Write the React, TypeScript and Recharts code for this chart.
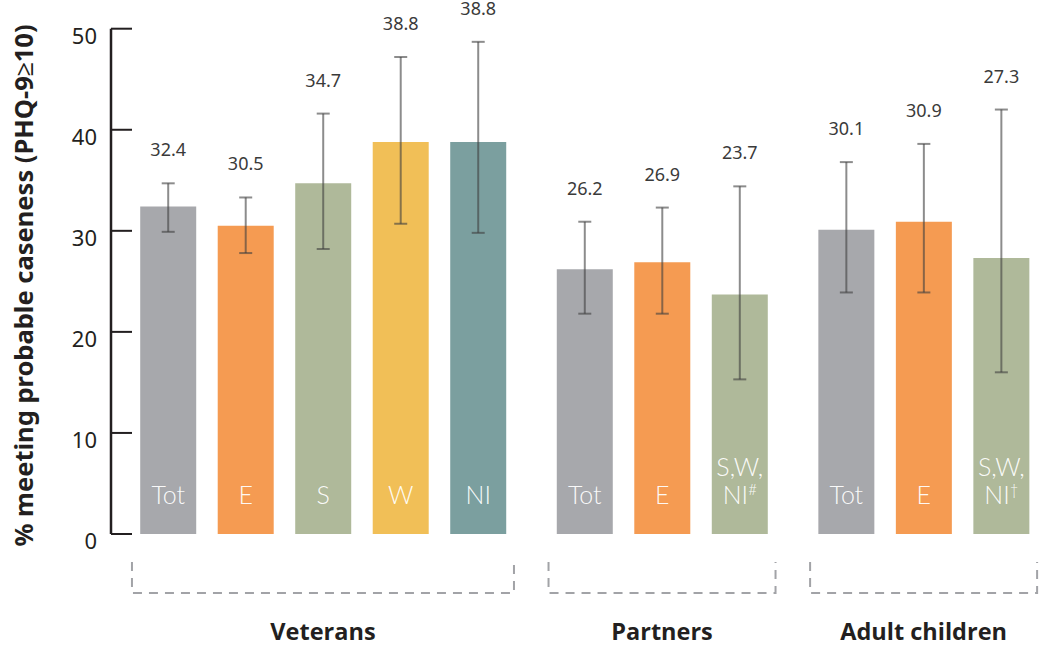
import React from "react";
import {
  BarChart,
  Bar,
  Cell,
  XAxis,
  YAxis,
  ErrorBar,
  LabelList,
} from "recharts";

// groups and how many bars each holds
const groups = ["Veterans", "Partners", "Adult children"];
const groupSizes = [5, 3, 3];

// short code printed inside each bar (second line after "\n")
const barCodes = ["Tot", "E", "S", "W", "NI", "Tot", "E", "S,W,\nNI", "Tot", "E", "S,W,\nNI"];
const barSups = ["", "", "", "", "", "", "", "#", "", "", "†"];

// % meeting probable caseness and 95% CI
const values = [32.4, 30.5, 34.7, 38.8, 38.8, 26.2, 26.9, 23.7, 30.1, 30.9, 27.3];
const ciLow = [29.9, 27.8, 28.2, 30.7, 29.8, 21.8, 21.8, 15.3, 23.9, 23.9, 16.0];
const ciHigh = [34.7, 33.3, 41.6, 47.2, 48.7, 30.9, 32.3, 34.4, 36.8, 38.6, 42.0];

const yTicks = [0, 10, 20, 30, 40, 50];

const colorByCode: Record<string, string> = {
  Tot: "#a7a8ac",
  E: "#f59b52",
  S: "#afb99a",
  W: "#f1bf57",
  NI: "#7b9f9f",
  "S,W,\nNI": "#afb99a",
};

const W = 1059;
const H = 646;
const AXIS_W = 111;
const PLOT_W = W - AXIS_W;
const X_MIN = -0.735;
const X_MAX = 11.497;
const GROUP_GAP = 0.375;
const UNIT_PX = PLOT_W / (X_MAX - X_MIN);
const INK = "#231f20";

const rows: any[] = [];
const groupCenters: number[] = [];
let k = 0;
groups.forEach((g, gi) => {
  const first = k + gi * GROUP_GAP;
  for (let i = 0; i < groupSizes[gi]; i++) {
    const idx = rows.length;
    rows.push({
      pos: k + gi * GROUP_GAP,
      code: barCodes[idx],
      value: values[idx],
      err: [values[idx] - ciLow[idx], ciHigh[idx] - values[idx]],
    });
    k++;
  }
  groupCenters.push((first + (k - 1 + gi * GROUP_GAP)) / 2);
});

const YTick = (props: any) => {
  const { x, y, payload } = props;
  return (
    <g>
      <line x1={x + 14} x2={x + 35} y1={y} y2={y} stroke={INK} strokeWidth={2} />
      <text
        x={x}
        y={y + 15}
        textAnchor="end"
        fontSize={22}
        fontFamily="Noto Sans"
        fill={INK}
      >
        {payload.value}
      </text>
    </g>
  );
};

// dashed bracket under each group plus its name
const GroupTick = (props: any) => {
  const { x, y, index } = props;
  const half = ((groupSizes[index] - 1) / 2) * UNIT_PX + 28 + 8;
  const top = y + 28;
  const bottom = y + 59;
  return (
    <g>
      <path
        d={`M${x - half},${top} V${bottom} H${x + half} V${top}`}
        fill="none"
        stroke="#a2a3a7"
        strokeWidth={2}
        strokeDasharray="9 7"
      />
      <text
        x={x}
        y={y + 106}
        textAnchor="middle"
        fontSize={23.5}
        fontWeight={700}
        fontFamily="Open Sans"
        fill={INK}
      >
        {groups[index]}
      </text>
    </g>
  );
};

const ValueLabel = (props: any) => {
  const { x, y, width, height, value, index } = props;
  const perUnit = height / value;
  const whiskerTop = y + height - ciHigh[index] * perUnit;
  return (
    <text
      x={x + width / 2}
      y={whiskerTop - 27}
      textAnchor="middle"
      fontSize={18}
      fontFamily="Noto Sans"
      fill="#3a3a3a"
    >
      {Number(value).toFixed(1)}
    </text>
  );
};

const CodeLabel = (props: any) => {
  const { x, y, width, height, index } = props;
  const lines = barCodes[index].split("\n");
  const bottom = y + height;
  const cx = x + width / 2;
  return (
    <text
      textAnchor="middle"
      fontSize={25}
      fontWeight={300}
      fontFamily="Lato"
      fill="#ffffff"
      fillOpacity={0.95}
    >
      {lines.map((ln: string, li: number) => (
        <tspan key={li} x={cx} y={bottom - 30 - (lines.length - 1 - li) * 28}>
          {ln}
          {li === lines.length - 1 && barSups[index] ? (
            <tspan fontSize={15} dy={-9}>
              {barSups[index]}
            </tspan>
          ) : null}
        </tspan>
      ))}
    </text>
  );
};

export default function App() {
  return (
    <div style={{ position: "absolute", left: 0, top: 0, background: "#fff" }}>
      <BarChart
        width={W}
        height={H}
        data={rows}
        margin={{ top: 28.7, right: 0, left: 0, bottom: 0 }}
      >
        <XAxis
          xAxisId="bars"
          dataKey="pos"
          type="number"
          domain={[X_MIN, X_MAX]}
          allowDataOverflow
          height={0}
          tick={false}
          tickLine={false}
          axisLine={{ stroke: INK, strokeWidth: 2.5 }}
        />
        <XAxis
          xAxisId="groups"
          dataKey="pos"
          type="number"
          domain={[X_MIN, X_MAX]}
          allowDataOverflow
          ticks={groupCenters}
          height={112}
          axisLine={false}
          tickLine={false}
          tickSize={0}
          tickMargin={0}
          interval={0}
          tick={<GroupTick />}
        />
        <YAxis
          width={AXIS_W}
          domain={[0, 50]}
          ticks={yTicks}
          interval={0}
          tickLine={false}
          tickSize={0}
          tickMargin={14}
          axisLine={{ stroke: INK, strokeWidth: 2.5 }}
          tick={<YTick />}
          label={{
            content: () => (
              <text
                transform="translate(33 285.5) rotate(-90)"
                x={0}
                y={0}
                textAnchor="middle"
                fontSize={25.5}
                fontWeight={700}
                fontFamily="Noto Sans"
                fill={INK}
              >
                % meeting probable caseness (PHQ-9≥10)
              </text>
            ),
          }}
        />
        <Bar
          xAxisId="bars"
          dataKey="value"
          barSize={56}
          isAnimationActive={false}
        >
          {rows.map((r, i) => (
            <Cell key={i} fill={colorByCode[r.code]} />
          ))}
          <ErrorBar
            dataKey="err"
            direction="y"
            width={6.5}
            stroke="#404040"
            strokeOpacity={0.6}
            strokeWidth={2}
          />
          <LabelList dataKey="value" content={<ValueLabel />} />
          <LabelList dataKey="code" content={<CodeLabel />} />
        </Bar>
      </BarChart>
    </div>
  );
}
